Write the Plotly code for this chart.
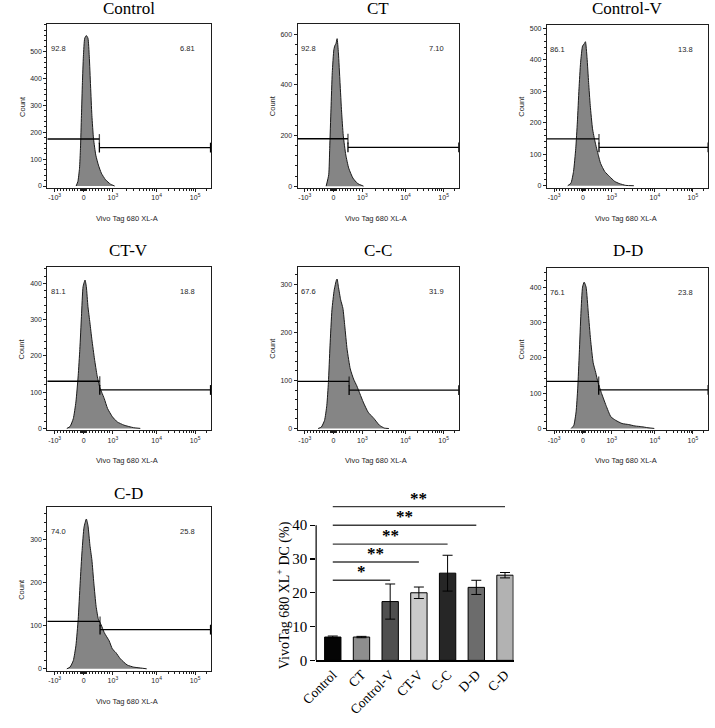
import plotly.graph_objects as go

W, H = 715, 728

# ---------------- histogram panels ----------------
# x values are in the display (biexponential) axis units:
# -10^3 -> -1, 0 -> 0, 10^3 -> 1, 10^4 -> 2.5, 10^5 -> 3.82
panel_names = ["Control", "CT", "Control-V", "CT-V", "C-C", "D-D", "C-D"]
pct_low = ["92.8", "92.8", "86.1", "81.1", "67.6", "76.1", "74.0"]
pct_high = ["6.81", "7.10", "13.8", "18.8", "31.9", "23.8", "25.8"]

control_x = [-0.26, -0.20, -0.145, -0.112, -0.078, -0.045, -0.011, 0.034, 0.089, 0.145, 0.19, 0.235,
             0.28, 0.336, 0.414, 0.503, 0.604, 0.75, 0.917, 1.06]
control_y = [0, 17, 66, 140, 262, 385, 483, 550, 560, 550, 483, 372, 262, 176, 115, 78, 48, 23, 7, 0]

ct_x = [-0.257, -0.168, -0.134, -0.089, -0.045, 0.011, 0.056, 0.078, 0.123, 0.168, 0.224, 0.28,
        0.336, 0.425, 0.526, 0.67, 0.84, 1.04]
ct_y = [0, 45, 149, 305, 448, 539, 558, 560, 582, 526, 409, 292, 201, 123, 71, 32, 10, 0]

controlv_x = [-0.526, -0.414, -0.324, -0.246, -0.19, -0.134, -0.078, -0.011, 0.045, 0.089, 0.145, 0.2,
              0.257, 0.336, 0.425, 0.537, 0.615, 0.76, 0.93, 1.1, 1.26, 1.49, 1.77]
controlv_y = [0, 8, 45, 119, 203, 308, 392, 444, 451, 458, 407, 328, 255, 181, 139, 97, 71, 45, 29,
              14, 7, 1, 0]

ctv_x = [-0.58, -0.47, -0.358, -0.268, -0.19, -0.134, -0.078, -0.022, 0.045, 0.089, 0.145, 0.213,
         0.28, 0.37, 0.46, 0.548, 0.615, 0.705, 0.817, 0.984, 1.15, 1.38, 1.71, 1.94]
ctv_y = [0, 5, 27, 73, 145, 218, 309, 391, 409, 391, 336, 291, 245, 191, 145, 114, 100, 82, 55, 32,
         18, 9, 2, 0]

cc_x = [-0.537, -0.425, -0.313, -0.235, -0.179, -0.123, -0.056, 0.022, 0.1, 0.123, 0.168, 0.246,
        0.325, 0.39, 0.47, 0.58, 0.694, 0.805, 0.917, 1.03, 1.2, 1.4, 1.59, 1.76, 1.92]
cc_y = [0, 3, 17, 48, 96, 172, 247, 288, 309, 311, 295, 268, 250, 213, 165, 124, 103, 89, 72, 55,
        34, 21, 7, 1, 0]

dd_x = [-0.403, -0.313, -0.235, -0.179, -0.123, -0.067, -0.011, 0.045, 0.112, 0.19, 0.268, 0.358,
        0.447, 0.526, 0.638, 0.805, 0.973, 1.14, 1.36, 1.59, 1.81, 2.04, 2.26, 2.48]
dd_y = [0, 9, 47, 112, 214, 326, 400, 414, 400, 326, 251, 186, 158, 130, 102, 65, 33, 23, 14, 11,
        7, 5, 2, 0]

cd_x = [-0.58, -0.47, -0.358, -0.268, -0.19, -0.123, -0.056, 0.011, 0.089, 0.145, 0.213, 0.28,
        0.347, 0.425, 0.503, 0.593, 0.705, 0.872, 0.984, 1.1, 1.26, 1.49, 1.71, 1.94, 2.16]
cd_y = [0, 4, 19, 54, 115, 199, 275, 329, 348, 333, 287, 253, 199, 145, 115, 103, 84, 65, 46, 38,
        23, 9, 4, 2, 0]

hist_x = [control_x, ct_x, controlv_x, ctv_x, cc_x, dd_x, cd_x]
hist_y = [control_y, ct_y, controlv_y, ctv_y, cc_y, dd_y, cd_y]

gate_split = [0.537, 0.50, 0.56, 0.55, 0.54, 0.55, 0.56]
gate_left_y = [175, 187, 149, 130, 98, 133, 110]
gate_right_y = [143, 153, 122, 106, 80, 109, 91]

count_top_tick = [500, 600, 500, 400, 300, 400, 300]
count_step = [100, 200, 100, 100, 100, 100, 100]

x_tick_vals = [-1, 0, 1, 2.5, 3.82]
x_tick_text = ["-10<sup>3</sup>", "0", "10<sup>3</sup>", "10<sup>4</sup>", "10<sup>5</sup>"]
x_minor_vals = [-0.9, -0.8, -0.7, -0.6, -0.5, -0.4, -0.3, -0.2, -0.1, -0.06, -0.03, 0.03, 0.06,
                0.1, 0.2, 0.3, 0.4, 0.5, 0.6, 0.7, 0.8, 0.9,
                1.45, 1.72, 1.90, 2.05, 2.17, 2.27, 2.35, 2.43,
                2.90, 3.13, 3.29, 3.42, 3.53, 3.62, 3.69, 3.76, 4.2]

# ---------------- bar chart ----------------
groups = ["Control", "CT", "Control-V", "CT-V", "C-C", "D-D", "C-D"]
bar_mean = [6.9, 6.9, 17.4, 20.0, 25.8, 21.6, 25.2]
bar_err = [0.3, 0.2, 5.2, 1.7, 5.3, 2.1, 0.8]
bar_colors = ["#050505", "#8e8e8e", "#4f4f4f", "#cacaca", "#262626", "#6c6c6c", "#b2b2b2"]
bar_ticks = [0, 10, 20, 30, 40]
sig_target = [2, 3, 4, 5, 6]
sig_height = [23.7, 29.1, 34.4, 40.0, 45.5]
sig_label = ["*", "**", "**", "**", "**"]

# ---------------- layout geometry (pixels) ----------------
# (left, right, top, bottom, y_min, y_max, title_y)
boxes = [
    (32, 199, 24.5, 190, -7, 602, 8.5),
    (288, 453, 24.5, 190, -7, 639, 8.5),
    (543, 708, 25, 190, -7, 512, 8.5),
    (32, 199, 270, 435, -5, 445, 253.5),
    (288, 453, 270, 435, -3.5, 336, 253.5),
    (543, 708, 271, 435, -5, 454, 253.5),
    (32, 199, 513, 678, -4, 375, 499),
]
X_RANGE = [-1.25, 4.35]


def fx(p):
    return p / W


def fy(p):
    return 1 - p / H


SANS = "Liberation Sans, Arial, sans-serif"
SERIF = "Liberation Serif, Times New Roman, serif"
INK = "#1e1e1e"

fig = go.Figure()
layout = dict(
    width=W, height=H, margin=dict(l=0, r=0, t=0, b=0),
    paper_bgcolor="white", plot_bgcolor="white", showlegend=False,
    shapes=[], annotations=[],
)

for i, name in enumerate(panel_names):
    n = i + 1
    xa = "x" if n == 1 else f"x{n}"
    ya = "y" if n == 1 else f"y{n}"
    left, right, top, bottom, ymin, ymax, ty = boxes[i]
    fig.add_trace(go.Scatter(
        x=hist_x[i], y=hist_y[i], xaxis=xa, yaxis=ya, mode="lines",
        fill="tozeroy", fillcolor="#858585",
        line=dict(color="#1a1a1a", width=1, shape="spline", smoothing=0.5),
        hoverinfo="skip"))
    # gates
    fig.add_trace(go.Scatter(
        x=[X_RANGE[0], gate_split[i]], y=[gate_left_y[i], gate_left_y[i]],
        xaxis=xa, yaxis=ya, mode="lines+markers", cliponaxis=False,
        line=dict(color="black", width=1.3),
        marker=dict(symbol="line-ns-open", size=[0, 7], line=dict(color="black", width=1.3)),
        hoverinfo="skip"))
    fig.add_trace(go.Scatter(
        x=[gate_split[i], X_RANGE[1]], y=[gate_right_y[i], gate_right_y[i]],
        xaxis=xa, yaxis=ya, mode="lines+markers", cliponaxis=False,
        line=dict(color="black", width=1.3),
        marker=dict(symbol="line-ns-open", size=7, line=dict(color="black", width=1.3)),
        hoverinfo="skip"))

    yt = list(range(0, count_top_tick[i] + 1, count_step[i]))
    axkey = "xaxis" if n == 1 else f"xaxis{n}"
    aykey = "yaxis" if n == 1 else f"yaxis{n}"
    layout[axkey] = dict(
        domain=[fx(left), fx(right)], anchor=ya, range=X_RANGE,
        tickmode="array", tickvals=x_tick_vals, ticktext=x_tick_text,
        ticks="outside", ticklen=3, tickwidth=1, tickcolor=INK,
        tickfont=dict(family=SANS, size=7, color=INK),
        showline=True, mirror=True, linecolor=INK, linewidth=1,
        showgrid=False, zeroline=False, fixedrange=True,
        minor=dict(tickmode="array", tickvals=x_minor_vals, ticks="outside",
                   ticklen=2, tickwidth=1, tickcolor=INK, showgrid=False),
    )
    layout[aykey] = dict(
        domain=[fy(bottom), fy(top)], anchor=xa, range=[ymin, ymax],
        tickmode="array", tickvals=yt, ticktext=[str(v) for v in yt],
        ticks="outside", ticklen=3, tickwidth=1, tickcolor=INK,
        tickfont=dict(family=SANS, size=7, color=INK),
        showline=True, mirror=True, linecolor=INK, linewidth=1,
        showgrid=False, zeroline=False, fixedrange=True,
        minor=dict(tickmode="linear", tick0=0, dtick=count_step[i] / 5, ticks="outside",
                   ticklen=2, tickwidth=1, tickcolor=INK, showgrid=False),
    )
    # titles and labels
    layout["annotations"] += [
        dict(text=name, x=fx((left + right) / 2), y=fy(ty), xref="paper", yref="paper",
             showarrow=False, xanchor="center", yanchor="middle",
             font=dict(family=SERIF, size=17, color="black")),
        dict(text="Count", x=fx(left - 26), y=fy((top + bottom) / 2), xref="paper", yref="paper",
             showarrow=False, textangle=-90, xanchor="center", yanchor="middle",
             font=dict(family=SANS, size=7.5, color=INK)),
        dict(text="Vivo Tag 680 XL-A", x=fx((left + right) / 2 - 2), y=fy(bottom + 31),
             xref="paper", yref="paper", showarrow=False, xanchor="center", yanchor="middle",
             font=dict(family=SANS, size=7.5, color=INK)),
        dict(text=pct_low[i], x=0.068, y=0.85, xref=f"{xa} domain", yref=f"{ya} domain",
             showarrow=False, xanchor="center", yanchor="middle",
             font=dict(family=SANS, size=7.5, color=INK)),
        dict(text=pct_high[i], x=0.86, y=0.85, xref=f"{xa} domain", yref=f"{ya} domain",
             showarrow=False, xanchor="center", yanchor="middle",
             font=dict(family=SANS, size=7.5, color=INK)),
    ]

# ---------------- bar chart ----------------
bx = list(range(len(groups)))
fig.add_trace(go.Bar(
    x=bx, y=bar_mean, xaxis="x8", yaxis="y8", width=0.57,
    marker=dict(color=bar_colors, line=dict(color="black", width=1)),
    error_y=dict(type="data", array=bar_err, color="black", thickness=1, width=5),
    hoverinfo="skip"))

BAR_LEFT, BAR_RIGHT, BAR_ZERO, PX_PER_UNIT = 307, 509, 667.7, 3.417
BAR_YMAX = 50
layout["xaxis8"] = dict(
    domain=[fx(BAR_LEFT), fx(BAR_RIGHT)], anchor="y8", range=[-0.58, 6.3],
    tickmode="array", tickvals=bx, ticktext=groups, tickangle=-45, ticks="",
    tickfont=dict(family=SERIF, size=13.5, color="black"),
    showline=True, linecolor="black", linewidth=1.2, showgrid=False, zeroline=False,
    fixedrange=True,
)
layout["yaxis8"] = dict(
    domain=[fy(BAR_ZERO), fy(BAR_ZERO - BAR_YMAX * PX_PER_UNIT)], anchor="x8",
    range=[0, BAR_YMAX], tickmode="array", tickvals=bar_ticks,
    ticktext=[str(v) for v in bar_ticks], ticks="outside", ticklen=5, tickwidth=1.2,
    tickcolor="black", tickfont=dict(family=SERIF, size=15, color="black"),
    showline=False, showgrid=False, zeroline=False, fixedrange=True,
)
# y axis line only up to the last tick
layout["shapes"].append(dict(type="line", xref="x8 domain", yref="y8", x0=0, x1=0,
                             y0=0, y1=bar_ticks[-1], line=dict(color="black", width=1.2)))
for tgt, h, lab in zip(sig_target, sig_height, sig_label):
    layout["shapes"].append(dict(type="line", xref="x8", yref="y8", x0=0, x1=tgt, y0=h, y1=h,
                                 line=dict(color="#3c3c3c", width=1.4)))
    layout["annotations"].append(dict(
        text=f"<b>{lab}</b>", x=tgt / 2, y=h, xref="x8", yref="y8", showarrow=False,
        xanchor="center", yanchor="bottom", yshift=-3,
        font=dict(family=SERIF, size=17, color="black")))

layout["annotations"].append(dict(
    text="VivoTag 680 XL<sup>+</sup> DC (%)", x=fx(274), y=fy(602), xref="paper", yref="paper",
    showarrow=False, textangle=-90, xanchor="center", yanchor="middle",
    font=dict(family=SERIF, size=14, color="black")))

fig.update_layout(**layout)
fig.write_html("out.html", config={"displayModeBar": False, "staticPlot": True},
               post_script="document.body.style.margin='0';")
